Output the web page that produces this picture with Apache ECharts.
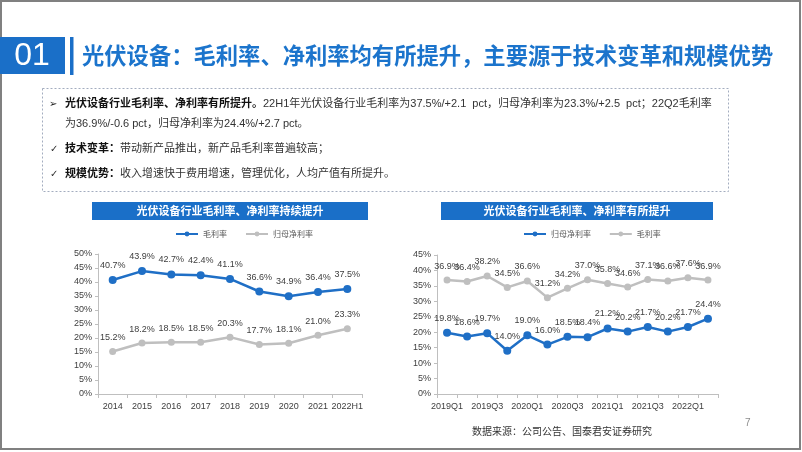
<!DOCTYPE html>
<html><head><meta charset="utf-8">
<script src="https://cdn.jsdelivr.net/npm/echarts@6/dist/echarts.min.js"></script>
<style>html,body{margin:0;padding:0;background:#fff}#c{width:802px;height:452px}</style>
</head><body><div id="c"></div>
<script>
var years = ['2014','2015','2016','2017','2018','2019','2020','2021','2022H1'];
var grossAnnual = [40.7, 43.9, 42.7, 42.4, 41.1, 36.6, 34.9, 36.4, 37.5];
var netAnnual = [15.2, 18.2, 18.5, 18.5, 20.3, 17.7, 18.1, 21.0, 23.3];
var quarters = ['2019Q1','2019Q2','2019Q3','2019Q4','2020Q1','2020Q2','2020Q3','2020Q4','2021Q1','2021Q2','2021Q3','2021Q4','2022Q1','2022Q2'];
var netQuarter = [19.8, 18.6, 19.7, 14.0, 19.0, 16.0, 18.5, 18.4, 21.2, 20.2, 21.7, 20.2, 21.7, 24.4];
var grossQuarter = [36.9, 36.4, 38.2, 34.5, 36.6, 31.2, 34.2, 37.0, 35.8, 34.6, 37.1, 36.6, 37.6, 36.9];
var leftYTicks = [0, 50, 5];
var rightYTicks = [0, 45, 5];

var BLUE = '#1f6fc6';
var GRAY = '#bfbfbf';
var FONT = '"Liberation Sans","Noto Sans CJK SC",sans-serif';
var CJK = '"Noto Sans CJK SC","Liberation Sans",sans-serif';
var TXT = '"Liberation Sans","Noto Sans CJK SC",sans-serif';

var chart = echarts.init(document.getElementById('c'), null, {renderer: 'canvas'});

function xAxisCfg(idx, data, labelInterval) {
  return {
    type: 'category', gridIndex: idx, data: data, boundaryGap: true,
    axisLine: {lineStyle: {color: '#bfbfbf', width: 1}},
    axisTick: {show: true, interval: 0, length: 4, lineStyle: {color: '#bfbfbf'}},
    axisLabel: {interval: labelInterval, color: '#404040', fontSize: 9, fontFamily: FONT, margin: 8},
    splitLine: {show: false}
  };
}
function yAxisCfg(idx, t) {
  return {
    type: 'value', gridIndex: idx, min: t[0], max: t[1], interval: t[2],
    axisLine: {show: true, lineStyle: {color: '#bfbfbf', width: 1}},
    axisTick: {show: true, length: 3, lineStyle: {color: '#bfbfbf'}},
    axisLabel: {formatter: '{value}%', color: '#404040', fontSize: 9, fontFamily: FONT, margin: 6},
    splitLine: {show: false}
  };
}
function lineSeries(name, xi, data, color, size, width) {
  return {
    name: name, type: 'line', xAxisIndex: xi, yAxisIndex: xi, data: data,
    symbol: 'circle', symbolSize: size,
    lineStyle: {color: color, width: width},
    itemStyle: {color: color},
    label: {show: true, position: 'top', distance: 6, formatter: function(p){return p.value.toFixed(1)+'%';},
      color: '#404040', fontSize: 9, fontFamily: FONT},
    animation: false
  };
}
var richTxt = {b: {font: 'bold 11px ' + TXT, fill: '#111'}, n: {font: '11px ' + TXT, fill: '#333'}};

var option = {
  animation: false,
  legend: [
    {left: 170, top: 225, itemWidth: 22, itemHeight: 6, itemGap: 18,
     data: ['毛利率', '归母净利率'],
     textStyle: {fontSize: 8, color: '#595959', fontFamily: CJK}},
    {left: 518, top: 225, itemWidth: 22, itemHeight: 6, itemGap: 16,
     data: ['归母净利率 ', '毛利率 '],
     textStyle: {fontSize: 8, color: '#595959', fontFamily: CJK}}
  ],
  grid: [
    {left: 98, top: 254, width: 264, height: 140, containLabel: false},
    {left: 437, top: 255, width: 281, height: 139, containLabel: false}
  ],
  xAxis: [xAxisCfg(0, years, 0), xAxisCfg(1, quarters, 1)],
  yAxis: [yAxisCfg(0, leftYTicks), yAxisCfg(1, rightYTicks)],
  series: [
    lineSeries('毛利率', 0, grossAnnual, BLUE, 8, 2.5),
    lineSeries('归母净利率', 0, netAnnual, GRAY, 7, 2.5),
    lineSeries('归母净利率 ', 1, netQuarter, BLUE, 8, 2.5),
    lineSeries('毛利率 ', 1, grossQuarter, GRAY, 7, 2.5)
  ],
  graphic: [
    {type: 'rect', shape: {x: 1, y: 1, width: 799, height: 448}, style: {fill: 'none', stroke: '#808080', lineWidth: 2}, silent: true},
    {type: 'rect', shape: {x: 0, y: 37, width: 65, height: 37}, style: {fill: '#1a6fc8'}},
    {type: 'text', x: 32, y: 56, style: {text: '01', fill: '#fff', font: '32px "Liberation Sans", sans-serif', align: 'center', verticalAlign: 'middle'}},
    {type: 'rect', shape: {x: 70, y: 37, width: 3.5, height: 38}, style: {fill: '#1a6fc8'}},
    {type: 'text', x: 82, y: 56, style: {text: '光伏设备：毛利率、净利率均有所提升，主要源于技术变革和规模优势', fill: '#1b74cc', font: 'bold 22.3px "Noto Sans CJK SC", sans-serif', verticalAlign: 'middle'}},
    {type: 'rect', shape: {x: 42.5, y: 88.5, width: 686, height: 103}, style: {fill: 'none', stroke: '#a3acbf', lineWidth: 1, lineDash: [2, 2]}},
    {type: 'text', x: 49, y: 104, style: {text: '➢', fill: '#222', font: '10px "DejaVu Sans", sans-serif', verticalAlign: 'middle'}},
    {type: 'text', x: 65, y: 104, style: {
      text: '{b|光伏设备行业毛利率、净利率有所提升。}{n|22H1年光伏设备行业毛利率为37.5%/+2.1  pct，归母净利率为23.3%/+2.5  pct；22Q2毛利率}',
      verticalAlign: 'middle', rich: richTxt}},
    {type: 'text', x: 65, y: 124, style: {text: '为36.9%/-0.6 pct，归母净利率为24.4%/+2.7 pct。', fill: '#333', font: '11px ' + TXT, verticalAlign: 'middle'}},
    {type: 'text', x: 50, y: 149, style: {text: '✓', fill: '#333', font: '10px "DejaVu Sans", sans-serif', verticalAlign: 'middle'}},
    {type: 'text', x: 65, y: 149, style: {
      text: '{b|技术变革：}{n|带动新产品推出，新产品毛利率普遍较高；}', verticalAlign: 'middle', rich: richTxt}},
    {type: 'text', x: 50, y: 174, style: {text: '✓', fill: '#333', font: '10px "DejaVu Sans", sans-serif', verticalAlign: 'middle'}},
    {type: 'text', x: 65, y: 174, style: {
      text: '{b|规模优势：}{n|收入增速快于费用增速，管理优化，人均产值有所提升。}', verticalAlign: 'middle', rich: richTxt}},
    {type: 'rect', shape: {x: 92, y: 202, width: 276, height: 18}, style: {fill: '#1a6fc8'}},
    {type: 'text', x: 230, y: 211, style: {text: '光伏设备行业毛利率、净利率持续提升', fill: '#fff', font: 'bold 11px "Noto Sans CJK SC", sans-serif', align: 'center', verticalAlign: 'middle'}},
    {type: 'rect', shape: {x: 441, y: 202, width: 272, height: 18}, style: {fill: '#1a6fc8'}},
    {type: 'text', x: 577, y: 211, style: {text: '光伏设备行业毛利率、净利率有所提升', fill: '#fff', font: 'bold 11px "Noto Sans CJK SC", sans-serif', align: 'center', verticalAlign: 'middle'}},
    {type: 'text', x: 472, y: 431, style: {text: '数据来源：公司公告、国泰君安证券研究', fill: '#333', font: '10px "Noto Sans CJK SC", sans-serif', verticalAlign: 'middle'}},
    {type: 'text', x: 745, y: 423, style: {text: '7', fill: '#8c8c8c', font: '10px "Liberation Sans", sans-serif', verticalAlign: 'middle'}}
  ]
};
chart.setOption(option);
</script></body></html>
